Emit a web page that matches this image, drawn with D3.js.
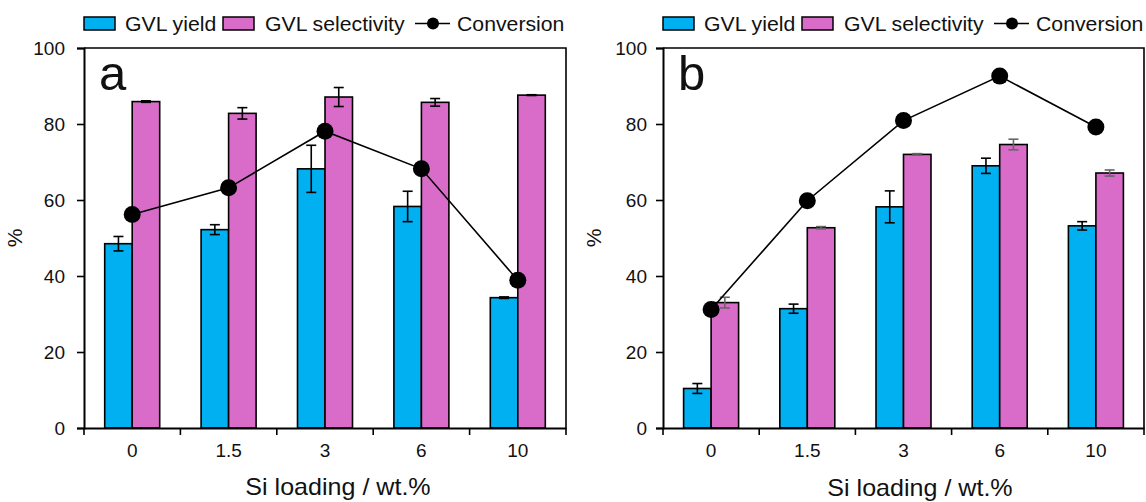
<!DOCTYPE html>
<html lang="en">
<head>
<meta charset="UTF-8">
<title>GVL yield / selectivity / conversion vs Si loading</title>
<style>
  body { margin: 0; background: #fff; }
  svg text { font-family: "Liberation Sans", Arial, sans-serif; fill: #111; }
</style>
</head>
<body>
<div id="chart"></div>
<script src="https://d3js.org/d3.v7.min.js"></script>
<script>
// categories (Si loading, wt.%)
const categories = ["0", "1.5", "3", "6", "10"];
const yTicks = [0, 20, 40, 60, 80, 100];

// panel a
const yieldA = [48.5, 52.2, 68.2, 58.3, 34.3];
const yieldErrA = [1.9, 1.3, 6.2, 4.0, 0.2];
const selA = [85.9, 82.8, 87.1, 85.7, 87.6];
const selErrA = [0.2, 1.5, 2.5, 1.0, 0.1];
const convA = [56.2, 63.2, 78.1, 68.2, 38.9];

// panel b
const yieldB = [10.4, 31.4, 58.2, 69.0, 53.2];
const yieldErrB = [1.3, 1.2, 4.2, 2.0, 1.1];
const selB = [33.0, 52.7, 72.0, 74.6, 67.1];
const selErrB = [1.4, 0.3, 0.2, 1.4, 0.8];
const convB = [31.2, 59.8, 80.9, 92.6, 79.2];

const W = 1146, H = 502;
const cYield = "#00B0F0", cSel = "#DA6CC9";
const FONT = "Liberation Sans, Arial, sans-serif";

const svg = d3.select("#chart").append("svg")
    .attr("width", W).attr("height", H);

// text slightly stretched horizontally, like the source figure
function label(parent, x, y, size, str, anchor, sx) {
    return parent.append("text")
        .attr("transform", `translate(${x},${y}) scale(${sx || 1.09},1)`)
        .attr("text-anchor", anchor || "start")
        .attr("font-size", size).text(str);
}

function panel(opt) {
    const left = opt.left, right = opt.right, top = 48, bottom = 428;
    const g = svg.append("g");

    const x = d3.scaleBand().domain(categories).range([left, right]);
    const y = d3.scaleLinear().domain([0, 100]).range([bottom, top]);
    const x1 = d3.scaleBand().domain(["yield", "sel"])
        .range([x.bandwidth() / 2 - 27.5, x.bandwidth() / 2 + 27.5]);

    // bars
    const series = [
        {key: "yield", vals: opt.yield, err: opt.yieldErr, color: cYield, errColor: "#000"},
        {key: "sel", vals: opt.sel, err: opt.selErr, color: cSel, errColor: opt.selErrColor}
    ];
    series.forEach(s => {
        g.append("g").selectAll("rect")
            .data(s.vals).enter().append("rect")
            .attr("x", (d, i) => x(categories[i]) + x1(s.key))
            .attr("y", d => y(d))
            .attr("width", x1.bandwidth())
            .attr("height", d => y(0) - y(d))
            .attr("fill", s.color)
            .attr("stroke", "#000")
            .attr("stroke-width", 1.6);

        // error bars
        const eg = g.append("g").attr("stroke", s.errColor).attr("stroke-width", 1.6);
        s.vals.forEach((d, i) => {
            const cx = x(categories[i]) + x1(s.key) + x1.bandwidth() / 2;
            const e = s.err[i];
            eg.append("line").attr("x1", cx).attr("x2", cx)
                .attr("y1", y(d + e)).attr("y2", y(d - e));
            eg.append("line").attr("x1", cx - 5).attr("x2", cx + 5)
                .attr("y1", y(d + e)).attr("y2", y(d + e));
            eg.append("line").attr("x1", cx - 5).attr("x2", cx + 5)
                .attr("y1", y(d - e)).attr("y2", y(d - e));
        });
    });

    // conversion line
    const line = d3.line()
        .x((d, i) => x(categories[i]) + x.bandwidth() / 2)
        .y(d => y(d));
    g.append("path").datum(opt.conv)
        .attr("d", line).attr("fill", "none")
        .attr("stroke", "#000").attr("stroke-width", 1.6);
    g.append("g").selectAll("circle")
        .data(opt.conv).enter().append("circle")
        .attr("cx", (d, i) => x(categories[i]) + x.bandwidth() / 2)
        .attr("cy", d => y(d))
        .attr("r", 8.5).attr("fill", "#000");

    // frame
    g.append("path")
        .attr("d", `M${left},${top}H${right}V${bottom}`)
        .attr("fill", "none").attr("stroke", "#000").attr("stroke-width", 1.6);

    // y axis
    const ya = g.append("g").attr("transform", `translate(${left},0)`)
        .call(d3.axisLeft(y).tickValues(yTicks).tickSize(7).tickPadding(opt.yPad));
    ya.select(".domain").attr("stroke-width", 2);
    ya.selectAll(".tick line").attr("stroke-width", 1.6);
    ya.selectAll("text").attr("font-size", 19).style("font-family", FONT);

    // x axis with ticks on category boundaries
    const xa = g.append("g").attr("transform", `translate(0,${bottom})`)
        .call(d3.axisBottom(x).tickSize(0).tickPadding(16));
    xa.select(".domain").attr("stroke-width", 2);
    xa.selectAll("text").attr("font-size", 19).style("font-family", FONT);
    const bounds = categories.map(c => x(c)).concat([right]);
    xa.selectAll(".bound").data(bounds).enter().append("line")
        .attr("x1", d => d).attr("x2", d => d)
        .attr("y1", 0).attr("y2", 7)
        .attr("stroke", "#000").attr("stroke-width", 1.6);

    // axis titles
    g.append("text")
        .attr("transform", `translate(${left - 62},${(top + bottom) / 2}) rotate(-90)`)
        .attr("text-anchor", "middle").attr("font-size", 21).text("%");
    label(g, opt.xTitleX, opt.xTitleY, 23, "Si loading / wt.%", "middle");

    // panel letter
    g.append("text").attr("x", left + 15).attr("y", top + 42)
        .attr("font-size", 49).text(opt.letter);

    // legend
    const lg = g.append("g").attr("transform", `translate(${left},0)`);
    const ly = 23.5;
    lg.append("rect").attr("x", 0).attr("y", ly - 6.5).attr("width", 31).attr("height", 13)
        .attr("fill", cYield).attr("stroke", "#000").attr("stroke-width", 1.5);
    label(lg, 41, ly + 7, 19.5, "GVL yield");
    lg.append("rect").attr("x", 139).attr("y", ly - 6.5).attr("width", 31).attr("height", 13)
        .attr("fill", cSel).attr("stroke", "#000").attr("stroke-width", 1.5);
    label(lg, 181, ly + 7, 19.5, "GVL selectivity");
    lg.append("line").attr("x1", 331).attr("x2", 366).attr("y1", ly).attr("y2", ly)
        .attr("stroke", "#000").attr("stroke-width", 1.6);
    lg.append("circle").attr("cx", 349).attr("cy", ly).attr("r", 6).attr("fill", "#000");
    label(lg, 373, ly + 7, 19.5, "Conversion");
}

panel({left: 84, right: 566, letter: "a", xTitleX: 338, xTitleY: 495, yPad: 12,
    yield: yieldA, yieldErr: yieldErrA, sel: selA, selErr: selErrA, conv: convA,
    selErrColor: "#000"});
panel({left: 663, right: 1144, letter: "b", xTitleX: 920, xTitleY: 496, yPad: 9,
    yield: yieldB, yieldErr: yieldErrB, sel: selB, selErr: selErrB, conv: convB,
    selErrColor: "#666"});
</script>
</body>
</html>
